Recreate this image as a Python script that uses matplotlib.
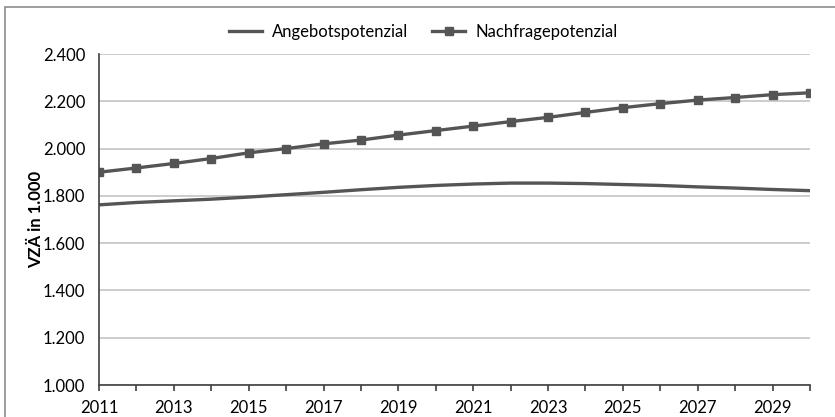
import matplotlib.pyplot as plt
from matplotlib.patches import Rectangle

years = list(range(2011, 2031))
angebot = [1762, 1772, 1779, 1786, 1795, 1805, 1815, 1826, 1836, 1844,
           1850, 1854, 1854, 1852, 1848, 1844, 1838, 1833, 1827, 1822]
nachfrage = [1900, 1918, 1937, 1958, 1982, 2000, 2020, 2036, 2057, 2076,
             2095, 2114, 2132, 2153, 2173, 2190, 2205, 2216, 2228, 2236]
yticks = [1000, 1200, 1400, 1600, 1800, 2000, 2200, 2400]
ytick_labels = ["1.000", "1.200", "1.400", "1.600", "1.800", "2.000", "2.200", "2.400"]

plt.rcParams['font.family'] = ['Lato', 'DejaVu Sans']

fig = plt.figure(figsize=(8.35, 4.17), dpi=100)
ax = fig.add_axes([0.1186, 0.0767, 0.8514, 0.7938])

# outer frame of the chart (right and bottom edges cut off)
fig.patches.append(Rectangle((5 / 835, -0.01), 1.0, 1 - 7 / 417 + 0.01,
                             transform=fig.transFigure, fill=False,
                             edgecolor='#8c8c8c', linewidth=1.2))

col = '#555555'
ax.plot(years, angebot, color=col, linewidth=2.4, label='Angebotspotenzial')
ax.plot(years, nachfrage, color=col, linewidth=2.4, marker='s', markersize=5.5,
        label='Nachfragepotenzial')

ax.set_xlim(2011, 2030)
ax.set_ylim(1000, 2400)
ax.set_yticks(yticks)
ax.set_yticklabels(ytick_labels)
ax.set_xticks(years)
ax.set_xticklabels([str(y) if (y - 2011) % 2 == 0 else '' for y in years])
ax.grid(axis='y', color='#c4c4c4', linewidth=1.2)
ax.set_axisbelow(True)

for s in ['top', 'right']:
    ax.spines[s].set_visible(False)
ax.spines['left'].set_color('#404040')
ax.spines['bottom'].set_color('#404040')
ax.spines['left'].set_linewidth(1.2)
ax.spines['bottom'].set_linewidth(1.2)
ax.tick_params(axis='y', length=0, labelsize=12, pad=10)
ax.tick_params(axis='x', direction='out', length=4, width=1.2, color='#404040',
               labelsize=12, pad=7)
ax.set_ylabel('VZÄ in 1.000', fontsize=12, fontweight='bold', labelpad=-1)

fig.legend(*ax.get_legend_handles_labels(), loc='center',
           bbox_to_anchor=(0.507, 1 - 32 / 417), ncol=2, frameon=False,
           fontsize=12, handlelength=2.0, handletextpad=0.6, columnspacing=1.4)

fig.savefig('out.png', dpi=100)
